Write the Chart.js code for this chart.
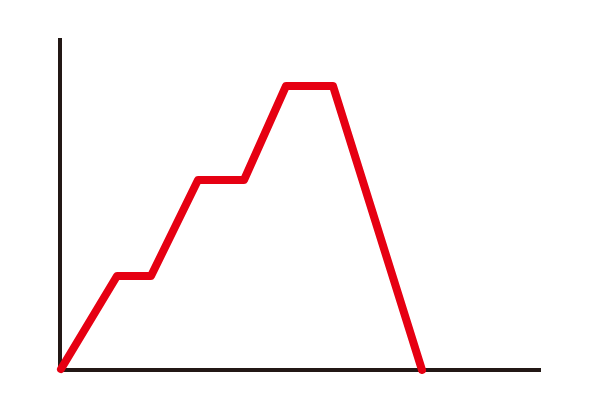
<!DOCTYPE html>
<html>
<head>
<meta charset="utf-8">
<script src="https://cdn.jsdelivr.net/npm/chart.js@4/dist/chart.umd.min.js"></script>
<style>
html,body{margin:0;padding:0;background:#fff;}
canvas{display:block;}
</style>
</head>
<body>
<canvas id="c" width="600" height="400"></canvas>
<script>
const xValues = [1, 57, 91, 138, 184, 226, 273, 362];
const yValues = [1, 94, 94, 190, 190, 284, 284, 0];
const xMax = 480;
const yMax = 330;

const points = xValues.map((x, i) => ({x: x, y: yValues[i]}));

new Chart(document.getElementById('c'), {
  type: 'line',
  data: {
    datasets: [{
      data: points,
      borderColor: '#e60012',
      borderWidth: 8,
      borderJoinStyle: 'round',
      borderCapStyle: 'round',
      pointRadius: 0,
      tension: 0,
      fill: false,
      clip: false
    }]
  },
  options: {
    responsive: false,
    devicePixelRatio: 1,
    animation: false,
    layout: {padding: {left: 60, right: 60, top: 40, bottom: 30}},
    plugins: {legend: {display: false}, tooltip: {enabled: false}},
    scales: {
      x: {
        type: 'linear', min: 0, max: xMax,
        grid: {display: false, drawTicks: false},
        ticks: {display: false},
        border: {display: true, color: '#231815', width: 4}
      },
      y: {
        type: 'linear', min: 0, max: yMax,
        grid: {display: false, drawTicks: false},
        ticks: {display: false},
        border: {display: true, color: '#231815', width: 4}
      }
    }
  }
});
</script>
</body>
</html>
